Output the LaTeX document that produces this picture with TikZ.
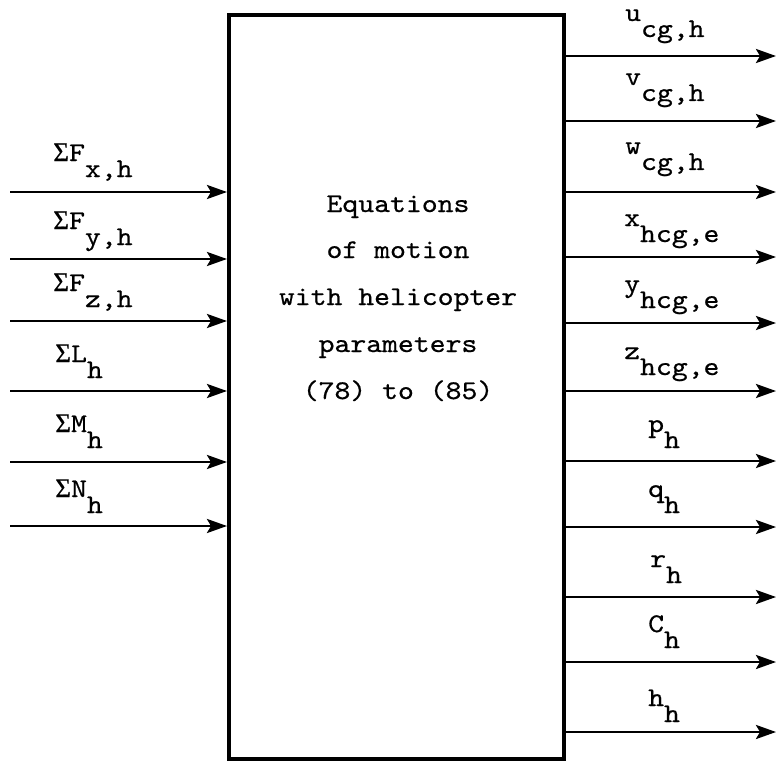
\documentclass[tikz,border=0pt]{standalone}
\usepackage{fontspec}
\usetikzlibrary{arrows.meta}
\newfontfamily\tw[FakeStretch=1.12,FakeBold=0.6]{lmmono10-regular.otf}
\newfontfamily\sigf[FakeBold=0.6]{Liberation Serif}
\newcommand\SIG{\makebox[15.9pt]{\sigf Σ}}
\newcommand\lbl[2]{\raisebox{16pt}{#1}#2}
\begin{document}
\begin{tikzpicture}[x=1pt,y=-1pt,
  every node/.style={font=\fontsize{27}{46.7}\tw, inner sep=0pt},
  blockbox/.style={draw, line width=4pt, minimum width=335pt, minimum height=744pt},
  sig/.style={line width=2.7pt, -{Stealth[length=20pt,width=14pt,inset=4pt]}},
  lab/.style={anchor=base west},
  eqline/.style={anchor=base}]
\useasboundingbox (0,0) rectangle (778,762);
\node[blockbox] (box) at (396.5,387) {};
% centre text
\node[eqline] (t1) at (398,212) {Equations};
\node[eqline] (t2) at (398,258) {of motion};
\node[eqline] (t3) at (398,305) {with helicopter};
\node[eqline] (t4) at (398,352) {parameters};
\node[eqline] (t5) at (398,399) {(78) to (85)};
% inputs
\coordinate (i1) at (10,192);
\coordinate (i2) at (10,259);
\coordinate (i3) at (10,321);
\coordinate (i4) at (10,391);
\coordinate (i5) at (10,462);
\coordinate (i6) at (10,526);
\foreach \n in {1,...,6}{\draw[sig] (i\n) -- (i\n -| box.west);}
\node[lab] (li1) at (53,177) {\lbl{\SIG F}{x,h}};
\node[lab] (li2) at (53,245) {\lbl{\SIG F}{y,h}};
\node[lab] (li3) at (53,307) {\lbl{\SIG F}{z,h}};
\node[lab] (li4) at (55,378) {\lbl{\SIG L}{h}};
\node[lab] (li5) at (55,448) {\lbl{\SIG M}{h}};
\node[lab] (li6) at (55,513) {\lbl{\SIG N}{h}};
% outputs
\coordinate (o1) at (776,56);
\coordinate (o2) at (776,121);
\coordinate (o3) at (776,192);
\coordinate (o4) at (776,257);
\coordinate (o5) at (776,323);
\coordinate (o6) at (776,391);
\coordinate (o7) at (776,461);
\coordinate (o8) at (776,527);
\coordinate (o9) at (776,597);
\coordinate (o10) at (776,662);
\coordinate (o11) at (776,732);
\foreach \n in {1,...,11}{\draw[sig] (o\n -| box.east) -- (o\n);}
\node[lab] (lo1) at (625,37) {\lbl{u}{cg,h}};
\node[lab] (lo2) at (625,101) {\lbl{v}{cg,h}};
\node[lab] (lo3) at (625,170) {\lbl{w}{cg,h}};
\node[lab] (lo4) at (624,242) {\lbl{x}{hcg,e}};
\node[lab] (lo5) at (624,308) {\lbl{y}{hcg,e}};
\node[lab] (lo6) at (624,375) {\lbl{z}{hcg,e}};
\node[lab] (lo7) at (648,448) {\lbl{p}{h}};
\node[lab] (lo8) at (648,513) {\lbl{q}{h}};
\node[lab] (lo9) at (650,583) {\lbl{r}{h}};
\node[lab] (lo10) at (648,648) {\lbl{C}{h}};
\node[lab] (lo11) at (648,722) {\lbl{h}{h}};
\end{tikzpicture}
\end{document}
